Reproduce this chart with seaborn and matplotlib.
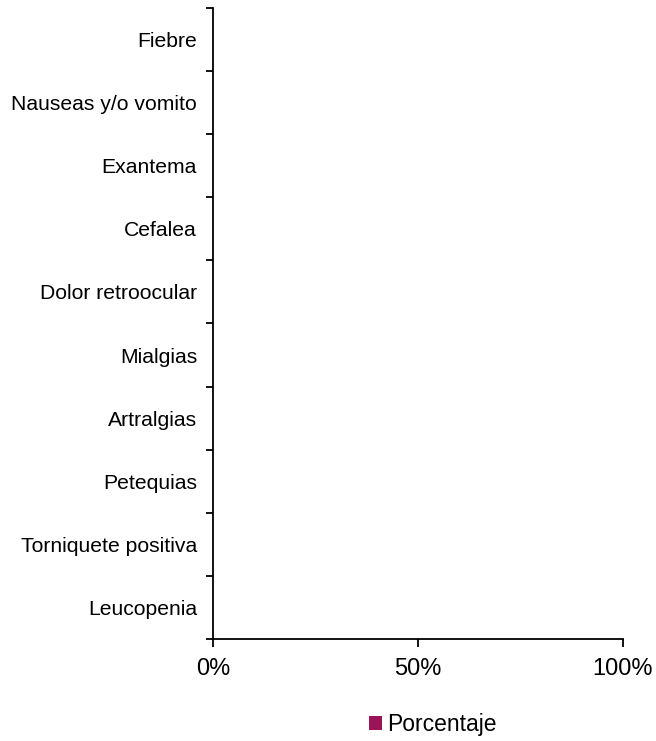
import matplotlib
matplotlib.use("Agg")
import matplotlib.pyplot as plt
import seaborn as sns
import pandas as pd
from matplotlib.ticker import FixedLocator, PercentFormatter
from matplotlib.patches import Patch

categories = ["Fiebre", "Nauseas y/o vomito", "Exantema", "Cefalea",
              "Dolor retroocular", "Mialgias", "Artralgias", "Petequias",
              "Torniquete positiva", "Leucopenia"]
porcentaje = [0, 0, 0, 0, 0, 0, 0, 0, 0, 0]
series_name = "Porcentaje"
bar_color = "#9B1458"
x_ticks = [0, 50, 100]

sns.set_theme(style="white")
plt.rcParams['font.family'] = ['Liberation Sans', 'DejaVu Sans']

df = pd.DataFrame({"cat": categories, "val": porcentaje})

fig = plt.figure(figsize=(6.56, 7.41), dpi=100)
ax = fig.add_axes([213/656, 1 - 639/741, (623 - 213)/656, (639 - 8)/741])

sns.barplot(data=df, x="val", y="cat", color=bar_color, ax=ax, width=0.6)

ax.set_xlim(0, 100)
ax.set_ylim(len(categories) - 0.5, -0.5)
ax.xaxis.set_major_locator(FixedLocator(x_ticks))
ax.xaxis.set_major_formatter(PercentFormatter(decimals=0))
ax.set_xlabel("")
ax.set_ylabel("")

ax.yaxis.set_minor_locator(FixedLocator([i - 0.5 for i in range(len(categories) + 1)]))
ax.tick_params(axis="y", which="major", length=0, pad=11.5, labelsize=15.2, colors="black")
ax.tick_params(axis="y", which="minor", length=5, width=1.3, color="black", direction="out", left=True)
ax.tick_params(axis="x", which="major", length=6, width=1.3, color="black", direction="out",
               bottom=True, pad=8, labelsize=17, labelcolor="black")

for s in ["top", "right"]:
    ax.spines[s].set_visible(False)
for s in ["left", "bottom"]:
    ax.spines[s].set_color("black")
    ax.spines[s].set_linewidth(1.3)

handle = Patch(facecolor=bar_color, edgecolor="none")
fig.legend([handle], [series_name], loc="center", bbox_to_anchor=(433/656, 1 - 725/741),
           frameon=False, fontsize=16.5, handlelength=0.55, handleheight=0.55,
           handletextpad=0.26, borderpad=0, borderaxespad=0, labelcolor="black")

fig.savefig("out.png", dpi=100)
